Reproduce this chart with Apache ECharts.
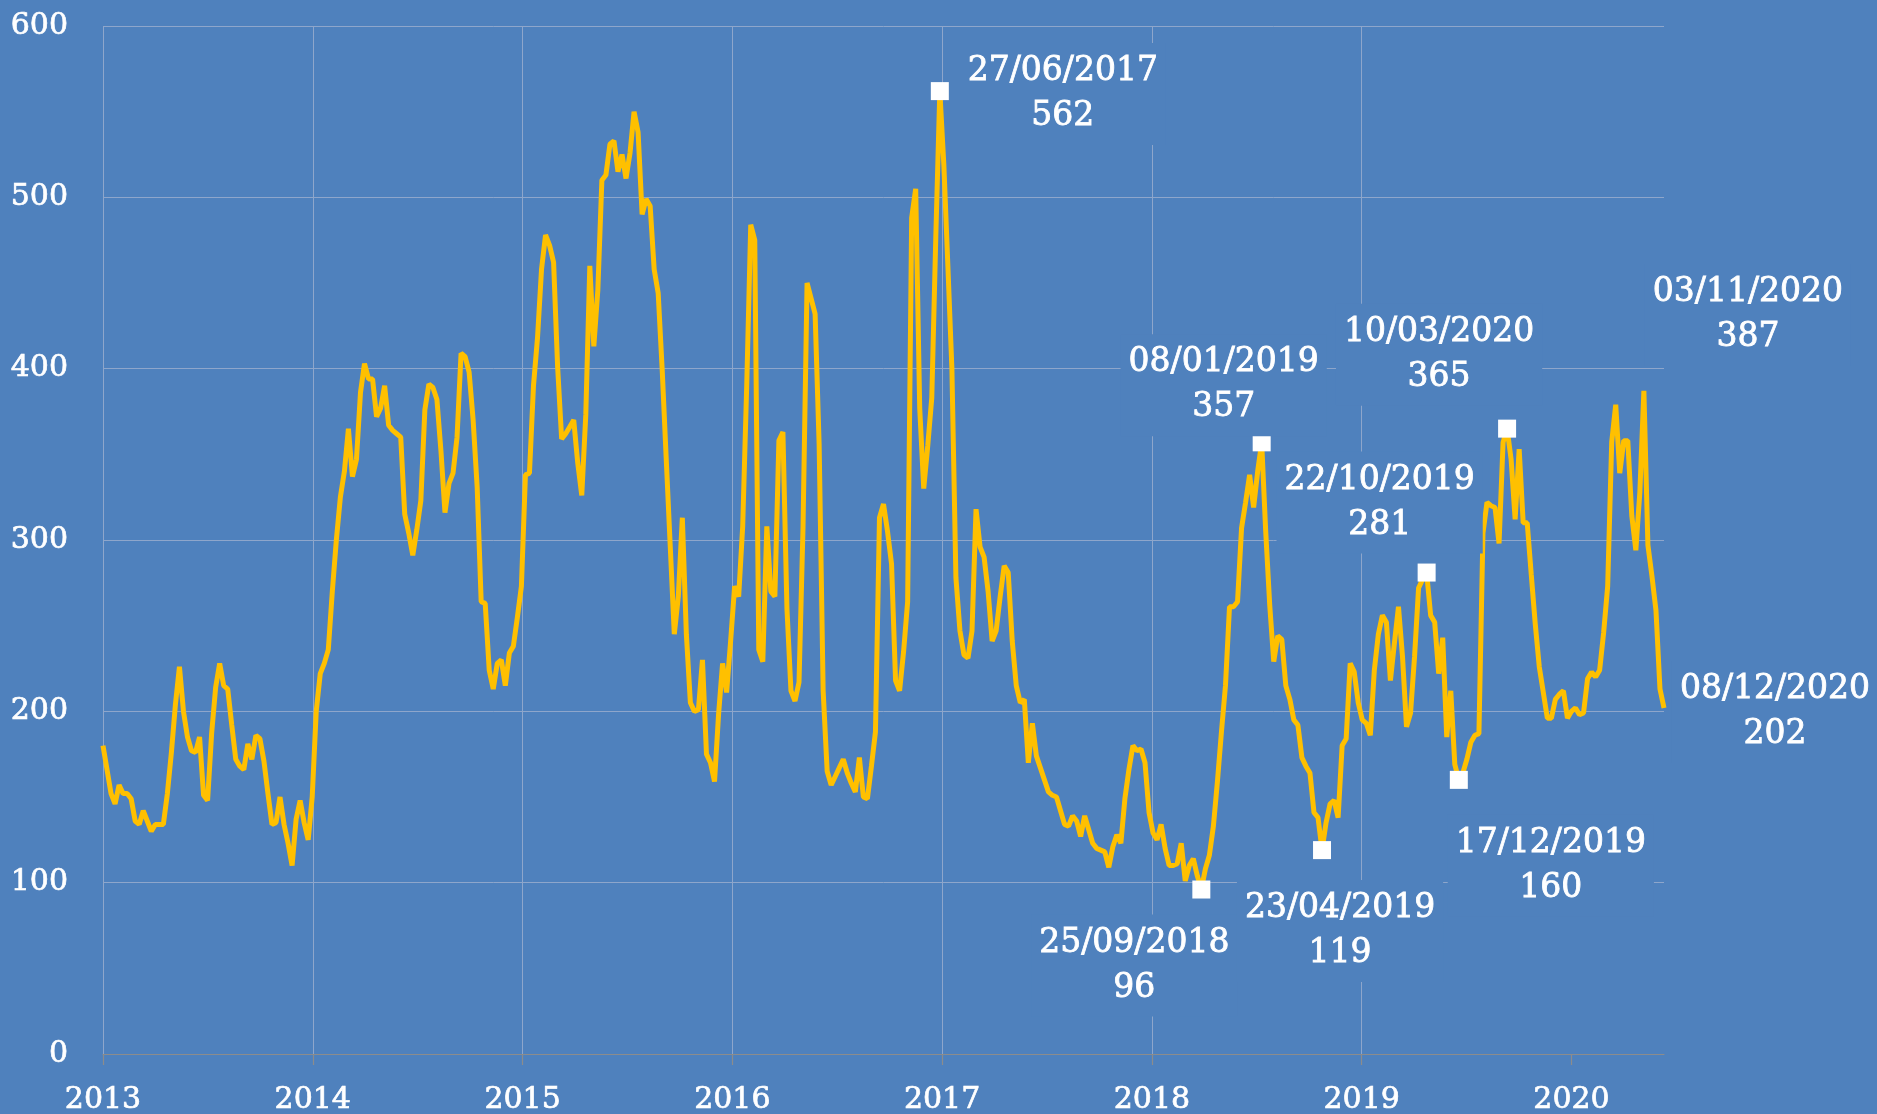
<!DOCTYPE html>
<html><head><meta charset="utf-8">
<script src="https://cdn.jsdelivr.net/npm/echarts@6/dist/echarts.min.js"></script>
<style>html,body{margin:0;padding:0;background:#4F81BD;}#c{width:1877px;height:1114px;}</style>
</head><body><div id="c"></div>
<script>
// weekly series, first week = 02/07/2013
const startDate = '02/07/2013';
const weeklyValues = [
180,166,152,146,157,152,152,149,136,134,142,136,130,134,134,134,152,176,204,226,
200,185,177,176,185,151,148,187,214,228,215,213,192,172,168,166,181,172,186,184,
171,152,134,135,150,134,123,110,137,148,135,125,150,200,222,228,236,270,300,325,
340,365,337,347,386,403,394,394,372,377,390,367,364,362,360,315,304,291,306,323,
376,391,389,382,352,316,333,339,360,409,407,398,370,331,264,263,224,213,228,230,
215,234,238,255,273,338,339,390,418,458,478,472,462,401,359,362,366,370,345,326,
373,460,413,446,510,513,531,533,515,525,511,526,550,538,490,499,495,458,444,399,
347,296,245,267,313,245,205,200,201,230,175,170,159,198,228,211,241,273,267,308,
390,484,475,236,229,308,270,267,358,363,260,212,206,217,308,450,441,432,356,212,
165,157,162,167,172,164,158,153,173,150,149,168,188,313,321,305,286,218,212,235,
264,488,505,377,330,355,383,477,562,519,460,400,278,247,233,231,247,318,296,290,
270,241,247,267,285,281,241,215,205,207,170,193,174,167,160,153,151,150,142,134,
133,139,136,127,139,131,123,120,119,118,109,121,128,123,149,166,180,177,178,170,
141,129,125,134,120,110,110,111,123,101,110,114,104,96,108,116,133,159,188,215,
261,261,264,307,322,338,319,340,357,305,262,229,244,242,215,207,195,192,173,168,
164,141,138,119,135,146,148,138,180,184,228,223,205,195,193,186,224,245,256,252,
218,240,261,232,191,199,232,272,277,281,256,252,222,243,185,212,169,160,164,172,
182,186,187,304,322,320,319,298,357,365,347,312,353,310,310,280,251,226,211,196,
196,207,210,212,196,200,202,198,199,219,223,220,224,246,273,357,379,339,358,358,
314,294,328,387,297,279,259,213,202
];
const xTickLabels = ['2013','2014','2015','2016','2017','2018','2019','2020'];
const yTickValues = [0,100,200,300,400,500,600];

// annotated points
const annDates  = ['27/06/2017','08/01/2019','25/09/2018','23/04/2019','22/10/2019','10/03/2020','17/12/2019','03/11/2020','08/12/2020'];
const annValues = [562,357,96,119,281,365,160,387,202];
const annMarked = [true,true,true,true,true,true,true,false,false];
// label placement (px offset from the point)
const annLabelOffsets = [[123,3],[-38,-57],[-67,76],[18,81],[-47,-70],[-68,-74],[92,86],[104,-76],[111,4]];

function dayNum(dmy){ const p = dmy.split('/').map(Number); return Date.UTC(p[2], p[1]-1, p[0]) / 86400000; }
const day0 = dayNum(startDate);
const lineData = weeklyValues.map((v, i) => [i * 7, v]);
const lastDay = (weeklyValues.length - 1) * 7;
const tickDays = xTickLabels.map((_, k) => k * 365);

const BG = '#4F81BD';
const FONT = 'DejaVu Serif';
const annData = annDates.map((d, i) => ({
  value: [dayNum(d) - day0, annValues[i]],
  symbol: 'rect',
  symbolSize: annMarked[i] ? 18 : 1,
  itemStyle: { color: annMarked[i] ? '#FFFFFF' : 'rgba(0,0,0,0)', opacity: 1 },
  label: {
    show: true, position: 'inside', offset: annLabelOffsets[i],
    formatter: d + '\n' + annValues[i],
    color: '#FFFFFF', fontFamily: FONT, fontSize: 33, lineHeight: 45,
    textBorderColor: '#FFFFFF', textBorderWidth: 0.8,
    align: 'center', verticalAlign: 'middle',
    backgroundColor: BG, padding: [6, 8]
  }
}));

const chart = echarts.init(document.getElementById('c'), null, { renderer: 'canvas' });
chart.setOption({
  backgroundColor: BG,
  animation: false,
  grid: { left: 103, right: 213, top: 26, bottom: 60, containLabel: false, outerBoundsMode: 'none' },
  xAxis: {
    type: 'value', min: 0, max: lastDay, interval: 365,
    axisLine: { show: true, lineStyle: { color: '#8C8C8C', width: 1.2 } },
    axisTick: { show: true, length: 11, lineStyle: { color: '#8C8C8C', width: 1.2 }, customValues: tickDays },
    axisLabel: { customValues: tickDays, formatter: v => xTickLabels[Math.round(v / 365)] || '',
      color: '#FFFFFF', fontFamily: FONT, fontSize: 30, margin: 31,
      textBorderColor: '#FFFFFF', textBorderWidth: 0.7 },
    splitLine: { show: true, showMaxLine: false, lineStyle: { color: '#8EA6CB', width: 1 } }
  },
  yAxis: {
    type: 'value', min: yTickValues[0], max: yTickValues[yTickValues.length - 1], interval: 100,
    axisLine: { show: false }, axisTick: { show: false },
    axisLabel: { color: '#FFFFFF', fontFamily: FONT, fontSize: 30, margin: 35,
      textBorderColor: '#FFFFFF', textBorderWidth: 0.7 },
    splitLine: { show: true, lineStyle: { color: '#8EA6CB', width: 1 } }
  },
  series: [
    { type: 'line', data: lineData, symbol: 'none', showSymbol: false,
      lineStyle: { color: '#FFC000', width: 5 }, z: 2 },
    { type: 'scatter', data: annData, z: 3, itemStyle: { opacity: 1 } }
  ]
});
</script></body></html>
